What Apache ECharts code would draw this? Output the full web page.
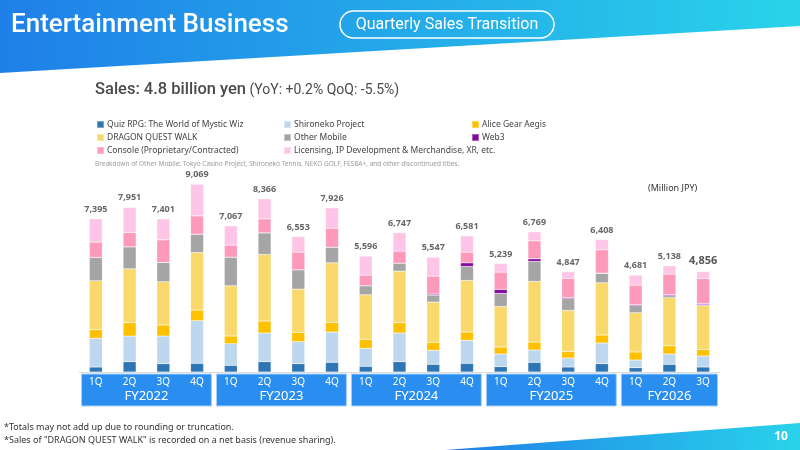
<!DOCTYPE html>
<html>
<head>
<meta charset="utf-8">
<script src="https://cdn.jsdelivr.net/npm/echarts@6/dist/echarts.min.js"></script>
<style>
  html, body { margin: 0; padding: 0; background: #fff; }
  #chart { width: 800px; height: 450px; }
</style>
</head>
<body>
<div id="chart"></div>
<script>
// 四半期ラベル
const quarters = ['1Q', '2Q', '3Q', '4Q', '1Q', '2Q', '3Q', '4Q', '1Q', '2Q', '3Q', '4Q', '1Q', '2Q', '3Q', '4Q', '1Q', '2Q', '3Q'];
const fiscalYears = ['FY2022', 'FY2023', 'FY2024', 'FY2025', 'FY2026'];
const quartersPerYear = [4, 4, 4, 4, 3];

// 売上 (百万円)
const quizRpg     = [241, 498, 402, 418, 322, 498, 402, 466, 273, 498, 370, 418, 257, 466, 241, 402, 209, 370, 241];
const shironeko   = [1383, 1238, 1335, 2058, 1045, 1383, 1061, 1463, 868, 1383, 675, 1110, 611, 595, 434, 997, 370, 498, 531];
const aliceGear   = [418, 643, 531, 515, 370, 579, 450, 466, 434, 498, 386, 402, 338, 386, 306, 386, 386, 402, 306];
const dqWalk      = [2364, 2605, 2090, 2782, 2428, 3216, 2090, 2878, 2155, 2492, 1946, 2492, 1962, 2927, 1994, 2525, 1897, 2316, 2123];
const otherMobile = [1126, 1061, 933, 884, 1383, 1045, 933, 756, 434, 386, 338, 675, 627, 965, 563, 450, 338, 96, 48];
const web3        = [0, 0, 0, 0, 0, 0, 0, 0, 0, 0, 48, 177, 193, 129, 48, 16, 48, 48, 48];
const consoleSales = [740, 691, 1093, 884, 579, 675, 852, 917, 515, 579, 868, 515, 836, 868, 933, 1126, 949, 997, 1222];
const licensing   = [1126, 1215, 1013, 1528, 933, 970, 756, 980, 917, 900, 917, 788, 418, 434, 322, 498, 482, 402, 337];
const totals      = [7395, 7951, 7401, 9069, 7067, 8366, 6553, 7926, 5596, 6747, 5547, 6581, 5239, 6769, 4847, 6408, 4681, 5138, 4856];

const FONT = '"Noto Sans", sans-serif';
const HEAD_FONT = 'Roboto, "Noto Sans", sans-serif';

const seriesDefs = [
    { name: 'Quiz RPG: The World of Mystic Wiz', data: quizRpg, color: '#2e75b6' },
    { name: 'Shironeko Project', data: shironeko, color: '#bdd7ee' },
    { name: 'Alice Gear Aegis', data: aliceGear, color: '#ffc000' },
    { name: 'DRAGON QUEST WALK', data: dqWalk, color: '#f9d96b' },
    { name: 'Other Mobile', data: otherMobile, color: '#a5a5a5' },
    { name: 'Web3', data: web3, color: '#820a9c' },
    { name: 'Console (Proprietary/Contracted)', data: consoleSales, color: '#fd9abb' },
    { name: 'Licensing, IP Development & Merchandise, XR, etc.', data: licensing, color: '#ffc5e6' },
];

// 年度グループ (開始/終了インデックス)
const groupData = [];
let idx = 0;
quartersPerYear.forEach((n, i) => {
    groupData.push([idx, idx + n - 1]);
    idx += n;
});

const chart = echarts.init(document.getElementById('chart'));

const barSeries = seriesDefs.map((s, si) => {
    const isTop = si === seriesDefs.length - 1;
    return {
        name: s.name,
        type: 'bar',
        stack: 'sales',
        barWidth: 13,
        xAxisIndex: 0,
        yAxisIndex: 0,
        itemStyle: { color: s.color, borderColor: 'rgba(255,255,255,0.35)', borderWidth: 0.5 },
        data: isTop ? s.data.map((v, i) => ({
            value: v,
            label: i === s.data.length - 1 ? { fontSize: 11, color: '#555' } : undefined
        })) : s.data,
        label: isTop ? {
            show: true,
            position: 'top',
            distance: 5,
            fontFamily: FONT,
            fontSize: 9,
            fontWeight: 'bold',
            color: '#666',
            formatter: p => totals[p.dataIndex].toLocaleString('en-US')
        } : { show: false },
        animation: false
    };
});

const legendStyle = {
    orient: 'vertical',
    icon: 'rect',
    itemWidth: 7,
    itemHeight: 7,
    itemGap: 4,
    selectedMode: false,
    textStyle: { fontFamily: FONT, fontSize: 8.5, color: '#444', padding: [0, 0, 0, -2] }
};

chart.setOption({
    animation: false,
    color: seriesDefs.map(s => s.color),
    legend: [
        Object.assign({ left: 91, top: 115, data: [seriesDefs[0].name, seriesDefs[3].name, seriesDefs[6].name] }, legendStyle),
        Object.assign({ left: 278, top: 115, data: [seriesDefs[1].name, seriesDefs[4].name, seriesDefs[7].name] }, legendStyle),
        Object.assign({ left: 466, top: 115, data: [seriesDefs[2].name, seriesDefs[5].name] }, legendStyle)
    ],
    grid: [
        { left: 79, width: 641, top: 165, height: 207 },
        { left: 79, width: 641, top: 374, height: 32 }
    ],
    xAxis: [
        {
            type: 'category',
            gridIndex: 0,
            data: quarters,
            z: 10,
            axisLine: { lineStyle: { color: '#dcdcdc', width: 1 } },
            axisTick: { show: false },
            axisLabel: { margin: 5, color: '#fff', fontFamily: FONT, fontSize: 10 }
        },
        {
            type: 'category',
            gridIndex: 1,
            data: quarters,
            show: false
        }
    ],
    yAxis: [
        { type: 'value', gridIndex: 0, min: 0, max: 10000, show: false },
        { type: 'value', gridIndex: 1, min: 0, max: 1, show: false }
    ],
    series: barSeries.concat([{
        type: 'custom',
        xAxisIndex: 1,
        yAxisIndex: 1,
        z: 1,
        data: groupData,
        renderItem: (params, api) => {
            const band = api.size([1, 0])[0];
            const p0 = api.coord([api.value(0), 1]);
            const p1 = api.coord([api.value(1), 0]);
            const x0 = p0[0] - band / 2 + 2.5;
            const x1 = p1[0] + band / 2 - 2.5;
            return {
                type: 'group',
                children: [
                    {
                        type: 'rect',
                        shape: { x: x0, y: p0[1], width: x1 - x0, height: p1[1] - p0[1] },
                        style: { fill: '#2a8ef0', stroke: '#a9d0f7', lineWidth: 1 }
                    },
                    {
                        type: 'text',
                        style: {
                            text: fiscalYears[params.dataIndex],
                            x: (x0 + x1) / 2,
                            y: p0[1] + 22,
                            align: 'center',
                            verticalAlign: 'middle',
                            fill: '#fff',
                            font: '13px ' + FONT
                        }
                    }
                ]
            };
        }
    }]),
    graphic: [
        {
            type: 'polygon',
            silent: true,
            z: -1,
            shape: { points: [[0, 0], [800, 0], [800, 26], [0, 73]] },
            style: {
                fill: new echarts.graphic.LinearGradient(0, 0, 1, 0, [
                    { offset: 0, color: '#1f7fe8' },
                    { offset: 1, color: '#29d3ea' }
                ])
            }
        },
        {
            type: 'text',
            x: 11,
            y: 25,
            style: { text: 'Entertainment Business', fill: '#fff', font: '500 26px ' + HEAD_FONT, verticalAlign: 'middle' }
        },
        {
            type: 'rect',
            shape: { x: 340, y: 11, width: 214, height: 27, r: 13.5 },
            style: { fill: 'none', stroke: '#fff', lineWidth: 1.5 }
        },
        {
            type: 'text',
            x: 447,
            y: 24.5,
            style: { text: 'Quarterly Sales Transition', fill: '#fff', font: '16px ' + HEAD_FONT, align: 'center', verticalAlign: 'middle' }
        },
        {
            type: 'text',
            x: 95,
            y: 90,
            style: {
                text: '{a|Sales: 4.8 billion yen} {b|(YoY: +0.2% QoQ: -5.5%)}',
                verticalAlign: 'middle',
                rich: {
                    a: { fontFamily: HEAD_FONT, fontSize: 16.5, fontWeight: 500, fill: '#4a4a4a', color: '#4a4a4a' },
                    b: { fontFamily: HEAD_FONT, fontSize: 14, fill: '#4a4a4a', color: '#4a4a4a' }
                }
            }
        },
        {
            type: 'text',
            x: 95,
            y: 164,
            style: {
                text: 'Breakdown of Other Mobile: Tokyo Casino Project, Shironeko Tennis, NEKO GOLF, FESBA+, and other discontinued titles.',
                fill: '#9a9a9a', font: '6.5px ' + FONT, verticalAlign: 'middle'
            }
        },
        {
            type: 'text',
            x: 648,
            y: 188,
            style: { text: '(Million JPY)', fill: '#333', font: '9px ' + FONT, verticalAlign: 'middle' }
        },
        {
            type: 'text',
            x: 4,
            y: 427,
            style: { text: '*Totals may not add up due to rounding or truncation.', fill: '#333', font: '9px ' + FONT, verticalAlign: 'middle' }
        },
        {
            type: 'text',
            x: 4,
            y: 440,
            style: { text: '*Sales of "DRAGON QUEST WALK" is recorded on a net basis (revenue sharing).', fill: '#333', font: '9px ' + FONT, verticalAlign: 'middle' }
        },
        {
            type: 'polygon',
            silent: true,
            shape: { points: [[445, 450], [800, 423], [800, 450]] },
            style: {
                fill: new echarts.graphic.LinearGradient(0, 0, 1, 0, [
                    { offset: 0, color: '#1f7fe8' },
                    { offset: 1, color: '#29d3ea' }
                ])
            }
        },
        {
            type: 'text',
            x: 781,
            y: 437,
            style: { text: '10', fill: '#fff', font: 'bold 12px ' + FONT, align: 'center', verticalAlign: 'middle' }
        }
    ]
});

window.addEventListener('resize', () => chart.resize());
</script>
</body>
</html>
